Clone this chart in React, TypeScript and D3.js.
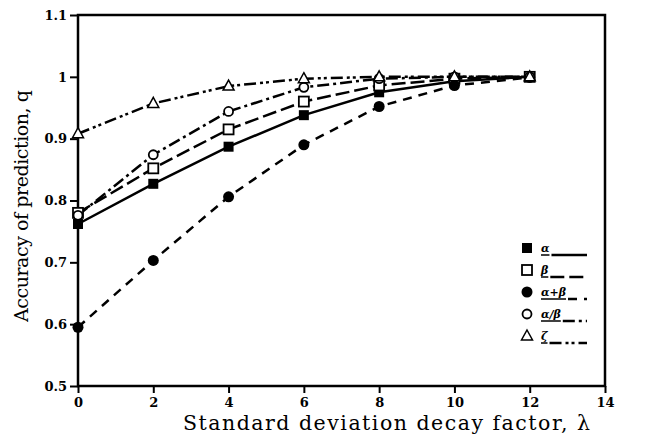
import React, { useEffect, useRef } from "react";
import * as d3 from "d3";

const lambdas = [0, 2, 4, 6, 8, 10, 12];
const alpha = [0.762, 0.827, 0.887, 0.938, 0.975, 0.993, 1.0];
const beta = [0.78, 0.852, 0.915, 0.96, 0.986, 0.997, 1.0];
const alphaPlusBeta = [0.595, 0.703, 0.806, 0.89, 0.952, 0.986, 0.999];
const alphaOverBeta = [0.776, 0.874, 0.944, 0.983, 0.997, 1.0, 1.0];
const zeta = [0.908, 0.957, 0.985, 0.997, 1.0, 1.0, 1.0];

const xTicks = [0, 2, 4, 6, 8, 10, 12, 14];
const yTicks = [0.5, 0.6, 0.7, 0.8, 0.9, 1.0, 1.1];
const yTickLabels = ["0.5", "0.6", "0.7", "0.8", "0.9", "1", "1.1"];

const seriesNames = ["α", "β", "α+β", "α/β", "ζ"];
const seriesValues = [alpha, beta, alphaPlusBeta, alphaOverBeta, zeta];
const markers = ["fsquare", "osquare", "fcircle", "ocircle", "triangle"];
const dashes = ["none", "14,5", "9,7", "12,4,3,4", "12,4,3,3,3,4"];

const margin = { left: 78, top: 15, right: 47, bottom: 49 };
const W = 652, H = 435;

const App = () => {
  const ref = useRef(null);
  useEffect(() => {
    const w = W - margin.left - margin.right;
    const h = H - margin.top - margin.bottom;
    const x = d3.scaleLinear().domain([0, 14]).range([0, w]);
    const y = d3.scaleLinear().domain([0.5, 1.1]).range([h, 0]);
    const g = d3.select(ref.current);
    g.selectAll("*").remove();

    const font = "'DejaVu Serif', serif";

    // frame
    g.append("rect").attr("width", w).attr("height", h)
      .attr("fill", "none").attr("stroke", "black").attr("stroke-width", 2.5);

    const xa = g.append("g").attr("transform", `translate(0,${h})`)
      .call(d3.axisBottom(x).tickValues(xTicks).tickSize(7).tickPadding(5).tickFormat(d3.format("d")));
    const ya = g.append("g")
      .call(d3.axisLeft(y).tickValues(yTicks).tickSize(8).tickPadding(3)
        .tickFormat((d, i) => yTickLabels[i]));
    [xa, ya].forEach(a => {
      a.select(".domain").remove();
      a.selectAll("line").attr("stroke", "black").attr("stroke-width", 2);
      a.selectAll("text").attr("font-family", font).attr("font-weight", "bold")
        .attr("font-size", 13).attr("fill", "black");
    });

    const line = d3.line().x((d, i) => x(lambdas[i])).y(d => y(d));

    const drawMarker = (sel, type, cx, cy) => {
      if (type === "fsquare" || type === "osquare") {
        sel.append("rect").attr("x", cx - 5).attr("y", cy - 5).attr("width", 10).attr("height", 10)
          .attr("fill", type === "fsquare" ? "black" : "white")
          .attr("stroke", "black").attr("stroke-width", type === "fsquare" ? 0 : 1.8);
      } else if (type === "fcircle" || type === "ocircle") {
        sel.append("circle").attr("cx", cx).attr("cy", cy).attr("r", type === "fcircle" ? 5.5 : 4.5)
          .attr("fill", type === "fcircle" ? "black" : "white")
          .attr("stroke", "black").attr("stroke-width", type === "fcircle" ? 0 : 1.8);
      } else {
        sel.append("path")
          .attr("d", `M${cx},${cy - 6}L${cx + 5.5},${cy + 4}L${cx - 5.5},${cy + 4}Z`)
          .attr("fill", "white").attr("stroke", "black").attr("stroke-width", 1.5);
      }
    };

    seriesValues.forEach((vals, k) => {
      g.append("path").attr("d", line(vals)).attr("fill", "none")
        .attr("stroke", "black").attr("stroke-width", 2.5)
        .attr("stroke-dasharray", dashes[k]);
    });
    seriesValues.forEach((vals, k) => {
      vals.forEach((v, i) => drawMarker(g, markers[k], x(lambdas[i]), y(v)));
    });

    // legend
    const lg = g.append("g").attr("transform", `translate(${449},${233})`);
    seriesNames.forEach((name, k) => {
      const ry = k * 22;
      drawMarker(lg, markers[k], 0, ry);
      const t = lg.append("text").attr("x", 14).attr("y", ry + 4)
        .attr("font-family", font).attr("font-style", "italic").attr("font-weight", "bold")
        .attr("font-size", 11).attr("fill", "black").text(name);
      const tw = (t.node() as SVGTextElement).getComputedTextLength();
      lg.append("line").attr("x1", 14).attr("x2", 14 + tw).attr("y1", ry + 7).attr("y2", ry + 7)
        .attr("stroke", "black").attr("stroke-width", 1.5);
      lg.append("line").attr("x1", 14 + tw + 2).attr("x2", 60).attr("y1", ry + 7).attr("y2", ry + 7)
        .attr("stroke", "black").attr("stroke-width", 2.5).attr("stroke-dasharray", dashes[k]);
    });

    g.append("text").attr("x", 183 - margin.left).attr("y", 430 - margin.top)
      .attr("font-family", font).attr("font-size", 20.5).attr("fill", "black")
      .attr("textLength", 407).attr("lengthAdjust", "spacing")
      .text("Standard deviation decay factor, λ");
    g.append("text").attr("transform", `translate(${28 - margin.left},${322 - margin.top}) rotate(-90)`)
      .attr("font-family", font).attr("font-size", 19).attr("fill", "black")
      .attr("textLength", 232).attr("lengthAdjust", "spacing")
      .text("Accuracy of prediction, q");
  }, []);

  return (
    <svg width={W} height={H} style={{ position: "absolute", left: 0, top: 0, background: "white" }}>
      <g ref={ref} transform={`translate(${margin.left},${margin.top})`} />
    </svg>
  );
};

export default App;
